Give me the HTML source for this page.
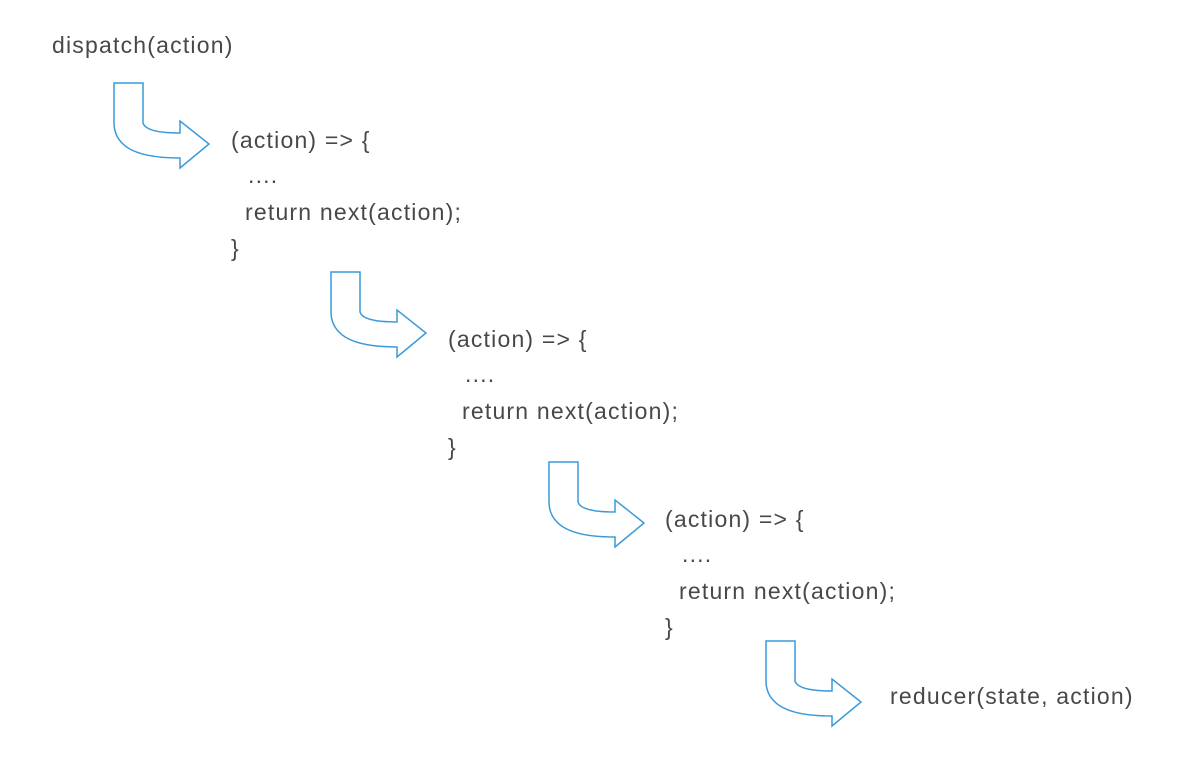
<!DOCTYPE html>
<html><head><style>
body{margin:0;width:1200px;height:760px;background:#fff;position:relative;overflow:hidden;font-family:"Liberation Sans",sans-serif;color:#484848;}
.t{position:absolute;font-size:23px;letter-spacing:1.2px;white-space:pre;line-height:1;}
svg{position:absolute;left:0;top:0}
</style></head><body>
<svg width="1200" height="760">
<defs><path id="a" d="M0,0 H29 V40 Q32,50 66,50 V38 L95,61 L66,85 V75 Q22,75 8,60 Q0,52 0,40 Z" fill="#fff" stroke="#3a9ad9" stroke-width="1.5" stroke-linejoin="miter"/></defs>
<use href="#a" x="114" y="83"/>
<use href="#a" x="331" y="272"/>
<use href="#a" x="549" y="462"/>
<use href="#a" x="766" y="641"/>
</svg>
<div class="t" style="left:52px;top:34px">dispatch(action)</div>

<div class="t" style="left:231px;top:129px">(action) =&gt; {</div>
<div class="t" style="left:248px;top:164px">....</div>
<div class="t" style="left:245px;top:201px">return next(action);</div>
<div class="t" style="left:231px;top:237px">}</div>

<div class="t" style="left:448px;top:328px">(action) =&gt; {</div>
<div class="t" style="left:465px;top:363px">....</div>
<div class="t" style="left:462px;top:400px">return next(action);</div>
<div class="t" style="left:448px;top:436px">}</div>

<div class="t" style="left:665px;top:508px">(action) =&gt; {</div>
<div class="t" style="left:682px;top:543px">....</div>
<div class="t" style="left:679px;top:580px">return next(action);</div>
<div class="t" style="left:665px;top:616px">}</div>

<div class="t" style="left:890px;top:685px">reducer(state, action)</div>
</body></html>
